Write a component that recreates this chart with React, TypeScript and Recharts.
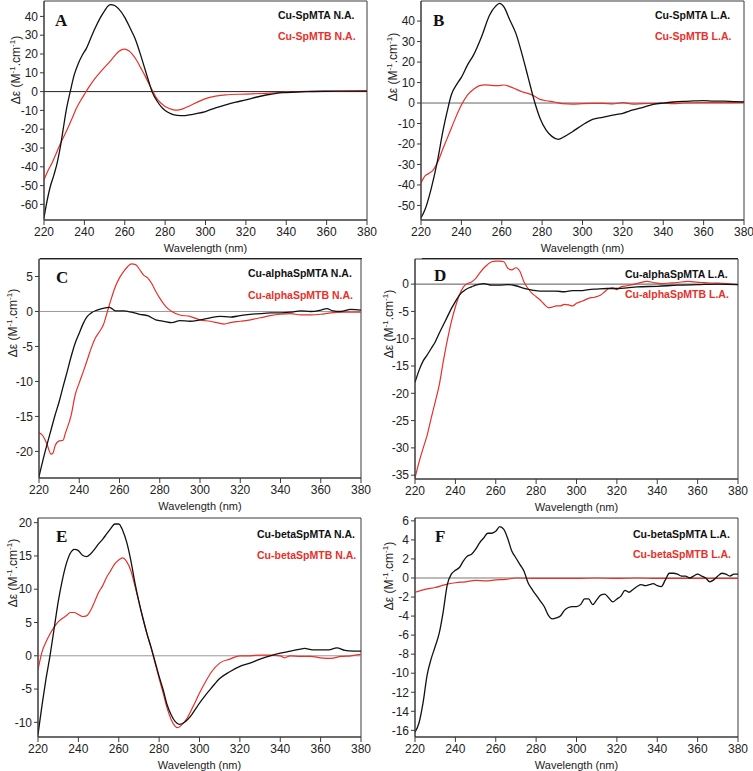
import React from "react";
import { LineChart, Line, XAxis, YAxis, ReferenceLine, ReferenceArea, Label } from "recharts";

type Pt = [number, number];

const wavelengthTicks = [220, 240, 260, 280, 300, 320, 340, 360, 380];

// A: native, SpMTA / SpMTB
const spmtaNA: Pt[] = [
  [220, -67], [221, -61], [223, -51], [225, -44], [226.5, -38], [228, -30], [229.5, -20], [231, -10], [233, 0],
  [235, 9], [237, 15], [239, 19.5], [241, 23], [243, 28], [245, 33], [248, 39.5], [250, 43], [252, 45.8],
  [253, 46.3], [255, 45.8], [257, 44], [260, 39.5], [263, 33], [265, 28.5], [268, 19], [270, 12], [272, 5],
  [273.5, 0], [276, -5], [278, -8], [280, -10], [283, -11.8], [286, -12.6], [289, -12.8], [292, -12.4],
  [295, -11.8], [300, -10.6], [305, -8.6], [310, -7], [315, -5.6], [320, -4.4], [325, -3], [330, -1.8],
  [335, -0.9], [340, -0.5], [345, -0.2], [350, 0], [360, 0.2], [370, 0.3], [380, 0.3],
];
const spmtbNA: Pt[] = [
  [220, -47], [222, -42], [224, -38], [226, -33], [228, -28], [230, -23.5], [232, -19], [234, -14], [236, -9],
  [238, -5], [240, -1.5], [242, 2], [245, 6.7], [248, 10.5], [250, 12.9], [253, 16.5], [255, 19], [257, 21.3],
  [259, 22.5], [260, 22.6], [262, 21.7], [264, 19.5], [266, 16.4], [268, 12.5], [270, 8.5], [272, 4], [274, 0],
  [276, -3.9], [278, -6.2], [280, -7.9], [282, -9], [285, -9.8], [287, -9.7], [290, -8.6], [293, -7.1],
  [296, -5.6], [300, -3.7], [305, -2.4], [310, -1.7], [320, -1.3], [330, -0.9], [340, -0.3], [350, 0.1],
  [360, 0.2], [370, 0.3], [380, 0.4],
];

// B: light-adapted, SpMTA / SpMTB
const spmtaLA: Pt[] = [
  [220, -56], [222, -52], [225, -42], [228, -29], [231, -13], [233, -4], [235, 3.9], [238, 9.6], [240, 12.5],
  [243, 18.5], [246, 23.4], [250, 32.4], [254, 43], [257, 47.3], [259, 48.6], [261, 47], [264, 40.5], [267, 34],
  [270, 24], [273, 12.8], [276, 1.5], [279, -7.5], [282, -13.2], [285, -16.4], [288, -17.7], [291, -16.4],
  [295, -14], [300, -10.7], [305, -8], [310, -7], [315, -5.9], [320, -5], [325, -3.4], [330, -2.1], [335, -0.7],
  [340, 0], [345, 0.5], [350, 0.8], [355, 1], [360, 1.2], [365, 0.9], [370, 0.9], [375, 0.7], [380, 0.6],
];
const spmtbLA: Pt[] = [
  [220, -39], [222, -35.6], [224, -34.3], [226, -32.7], [228, -29.4], [231, -22], [234, -14.8], [237, -7.5],
  [240, -1], [243, 3.9], [246, 6.7], [249, 8.5], [252, 8.9], [255, 8.6], [258, 8.5], [261, 8.8], [264, 8],
  [267, 6.8], [270, 5.5], [273, 4.7], [276, 3.4], [279, 1.8], [282, 1.1], [286, 0.5], [290, -0.3], [295, -0.5],
  [300, -0.3], [305, -0.2], [310, -0.2], [315, -0.4], [320, 0.2], [325, -0.5], [330, -0.3], [340, -0.1],
  [345, -0.3], [350, 0], [360, 0.2], [370, 0.2], [380, 0.3],
];

// C: alpha domain, native
const alphaANA: Pt[] = [
  [220, -23.6], [222, -21.2], [224, -19], [226, -16.9], [228, -14.8], [230, -12.9], [232, -10.7], [234, -8.6],
  [236, -6.4], [238, -4.5], [240, -3.1], [242, -1.7], [244, -0.7], [246, -0.2], [248, 0.1], [250, 0.3],
  [253, 0.5], [255, 0.6], [258, 0.1], [262, 0.1], [266, -0.1], [270, -0.4], [274, -0.6], [278, -1.2],
  [282, -1.4], [286, -1.6], [290, -1.3], [295, -1.4], [300, -1.2], [305, -0.9], [310, -0.7], [315, -0.8],
  [320, -0.6], [325, -0.4], [330, -0.3], [335, -0.2], [340, -0.2], [345, -0.1], [350, 0.1], [355, 0],
  [360, 0.2], [363, 0.4], [366, 0.1], [370, 0], [375, 0.3], [380, 0.2],
];
const alphaBNA: Pt[] = [
  [220, -17.3], [222, -17.8], [224, -19], [226, -20.4], [227, -20.2], [228, -19.2], [230, -18.5], [232, -18.4],
  [233, -17.5], [236, -14.8], [238, -11.9], [240, -10.2], [242, -8.6], [244, -6.9], [246, -5.2], [248, -3.8],
  [250, -2.9], [252, -1.9], [254, 0], [256, 1.9], [258, 3.6], [260, 4.8], [262, 5.7], [264, 6.4], [266, 6.8],
  [268, 6.7], [270, 6], [272, 5.2], [274, 4.8], [276, 4], [278, 2.9], [280, 1.9], [283, 0.7], [286, 0],
  [290, -0.5], [295, -0.7], [300, -1.2], [305, -1.4], [310, -1.7], [312, -1.8], [315, -1.6], [320, -1.4],
  [325, -1.2], [330, -0.9], [335, -0.6], [340, -0.4], [345, -0.3], [350, -0.5], [355, -0.5], [360, -0.4],
  [365, -0.2], [370, -0.1], [375, -0.1], [380, -0.1],
];

// D: alpha domain, light-adapted
const alphaALA: Pt[] = [
  [220, -18], [222, -15.8], [224, -14.1], [226, -13], [228, -11.8], [230, -10.6], [232, -9], [234, -7.5],
  [236, -6], [238, -4.5], [240, -3.2], [242, -2], [244, -1.3], [246, -0.8], [248, -0.5], [250, -0.2],
  [254, 0.1], [258, -0.2], [262, -0.2], [266, -0.1], [270, -0.3], [274, -0.8], [278, -1.1], [282, -1.3],
  [286, -1.3], [290, -1.3], [294, -1.4], [298, -1.2], [302, -1.2], [306, -1], [310, -0.9], [315, -0.8],
  [320, -0.8], [325, -0.7], [330, -0.5], [340, -0.4], [350, -0.2], [360, -0.1], [370, 0], [380, -0.1],
];
const alphaBLA: Pt[] = [
  [220, -35.5], [222, -32.6], [224, -30.1], [226, -27.7], [228, -24.6], [230, -21.6], [232, -18.5], [234, -14.2],
  [236, -10.3], [238, -6.9], [240, -4.2], [242, -2], [244, -0.5], [246, 0.1], [248, 0.4], [250, 1], [252, 2],
  [254, 2.9], [256, 3.6], [258, 4.1], [260, 4.2], [262, 4.2], [264, 4.1], [266, 2.9], [268, 2.6], [270, 3],
  [272, 2.3], [274, 0.4], [276, -0.8], [278, -1.7], [280, -2.3], [282, -2.9], [284, -3.7], [286, -4.3],
  [288, -4.2], [290, -4], [292, -4], [294, -3.7], [296, -3.8], [298, -4], [300, -3.5], [303, -3.1],
  [306, -2.6], [309, -2.4], [312, -2], [314, -1.4], [316, -0.8], [318, -0.7], [320, -1], [322, -0.5],
  [325, -0.3], [330, 0.1], [335, 0.5], [338, 0.3], [342, 0.1], [346, 0.2], [350, 0.3], [355, 0.5],
  [358, 0.4], [362, 0.3], [366, 0.2], [370, 0.2], [375, 0.1], [380, -0.1],
];

// E: beta domain, native
const betaANA: Pt[] = [
  [220, -11.8], [222, -7.4], [224, -3.4], [226, 0.1], [228, 4.1], [230, 8.1], [232, 11.3], [234, 13.8],
  [236, 15.4], [238, 16], [240, 15.8], [242, 15.1], [244, 14.9], [246, 15.3], [248, 16], [250, 16.8],
  [252, 17.5], [254, 18.3], [256, 19.1], [258, 19.8], [260, 19.8], [262, 18.8], [264, 17], [266, 14.3],
  [268, 11], [270, 8.1], [272, 5.6], [274, 3.3], [276, 1.3], [278, -0.9], [280, -3.1], [282, -5.1],
  [284, -7.4], [286, -8.9], [288, -9.9], [290, -10.3], [292, -10.1], [294, -9.6], [296, -8.9], [298, -8],
  [300, -7.1], [303, -5.9], [306, -4.8], [310, -3.4], [315, -2.4], [320, -1.6], [325, -1.1], [330, -0.5],
  [335, 0], [340, 0.4], [345, 0.7], [350, 1], [352, 1.1], [356, 0.9], [360, 0.9], [364, 0.9], [368, 1.2],
  [372, 0.8], [376, 0.7], [380, 0.7],
];
const betaBNA: Pt[] = [
  [220, -2.1], [222, 0.6], [224, 2.1], [226, 3.3], [228, 4.3], [230, 5.1], [232, 5.6], [234, 6], [236, 6.5],
  [238, 6.5], [240, 6.2], [242, 5.9], [244, 6], [246, 6.8], [248, 8.1], [250, 9.5], [252, 10.5], [254, 11.8],
  [256, 12.8], [258, 13.8], [260, 14.4], [262, 14.7], [264, 14.1], [266, 12.8], [268, 10.5], [270, 8.1],
  [272, 5.6], [274, 3.3], [276, 1.2], [278, -1.1], [280, -3.4], [282, -5.6], [284, -7.9], [286, -9.6],
  [288, -10.6], [289, -10.8], [290, -10.7], [292, -10.1], [294, -9.3], [296, -8.1], [298, -6.9], [300, -5.6],
  [303, -3.9], [306, -2.4], [310, -1.1], [315, -0.5], [320, 0], [325, 0], [330, 0.1], [335, 0.1], [340, 0],
  [342, -0.3], [345, 0], [350, -0.1], [355, -0.1], [360, -0.3], [365, -0.4], [370, -0.1], [375, 0], [380, 0.2],
];

// F: beta domain, light-adapted
const betaALA: Pt[] = [
  [220, -16.2], [222, -15.2], [224, -13.1], [226, -10.2], [228, -8.5], [230, -7.2], [232, -5.8], [234, -3.5],
  [236, -0.7], [238, 0.4], [240, 0.8], [242, 1.1], [244, 1.8], [246, 2.3], [248, 2.5], [250, 3], [252, 3.7],
  [254, 4.2], [256, 4.7], [258, 4.7], [260, 4.9], [262, 5.4], [264, 5.1], [266, 4.1], [268, 2.8], [270, 2.1],
  [272, 1.4], [274, 0.7], [276, -0.5], [278, -1.2], [280, -1.8], [282, -2.4], [284, -3], [286, -3.9],
  [288, -4.3], [290, -4.2], [292, -4], [294, -3.4], [296, -3.1], [298, -3], [300, -3], [302, -2.8],
  [304, -2.2], [306, -2.2], [308, -2.8], [310, -2.3], [312, -1.8], [314, -1.7], [316, -2.1], [318, -2.5],
  [320, -2.2], [322, -1.9], [324, -1.3], [326, -1.5], [328, -1.2], [330, -0.9], [332, -0.7], [334, -0.8],
  [336, -0.7], [338, -0.6], [340, -0.8], [342, -0.9], [344, -0.2], [346, 0.5], [348, 0.5], [350, 0.4],
  [352, 0.2], [354, 0.2], [356, 0], [358, 0.2], [360, 0.4], [362, 0.2], [364, 0], [366, -0.4], [368, -0.2],
  [370, 0.2], [372, 0.5], [374, 0.4], [376, 0.2], [378, 0.4], [380, 0.4],
];
const betaBLA: Pt[] = [
  [220, -1.5], [225, -1.2], [230, -1], [235, -0.7], [240, -0.5], [245, -0.4], [250, -0.25], [255, -0.3],
  [260, -0.2], [265, -0.15], [270, 0], [280, -0.05], [290, -0.05], [300, -0.05], [310, 0], [320, -0.05],
  [330, 0], [340, -0.05], [350, -0.05], [360, -0.05], [370, -0.05], [380, -0.05],
];

const RED = "#e8302a";
const FRAME = "#3a3a3a";
const SANS = "'Liberation Sans', Arial, sans-serif";

type PanelDef = {
  letter: string;
  left: number; right: number; top: number; bottom: number;
  domain: [number, number];
  yTicks: number[];
  zero: string;
  black: Pt[]; red: Pt[];
  blackName: string; redName: string;
  legendX: number; legendY1: number; legendY2: number;
  letterX: number; letterY: number;
  yLabelX: number; yLabelY: number;
};

const panels: PanelDef[] = [
  {
    letter: "A", left: 44, right: 367, top: 1, bottom: 220, domain: [-68.3, 48.2],
    yTicks: [-60, -50, -40, -30, -20, -10, 0, 10, 20, 30, 40], zero: "#222",
    black: spmtaNA, red: spmtbNA, blackName: "Cu-SpMTA N.A.", redName: "Cu-SpMTB N.A.",
    legendX: 278, legendY1: 15, legendY2: 36, letterX: 55, letterY: 21, yLabelX: 13, yLabelY: 70,
  },
  {
    letter: "B", left: 421, right: 744, top: 1, bottom: 220, domain: [-57.1, 49.8],
    yTicks: [-50, -40, -30, -20, -10, 0, 10, 20, 30, 40], zero: "#666",
    black: spmtaLA, red: spmtbLA, blackName: "Cu-SpMTA L.A.", redName: "Cu-SpMTB L.A.",
    legendX: 655, legendY1: 15, legendY2: 36, letterX: 433, letterY: 21, yLabelX: 390, yLabelY: 67,
  },
  {
    letter: "C", left: 39, right: 361, top: 259, bottom: 478, domain: [-23.8, 7.5],
    yTicks: [-20, -15, -10, -5, 0, 5], zero: "#999",
    black: alphaANA, red: alphaBNA, blackName: "Cu-alphaSpMTA N.A.", redName: "Cu-alphaSpMTB N.A.",
    legendX: 248, legendY1: 273, legendY2: 295, letterX: 56, letterY: 278, yLabelX: 10, yLabelY: 323,
  },
  {
    letter: "D", left: 415, right: 738, top: 259, bottom: 479, domain: [-35.7, 4.6],
    yTicks: [-35, -30, -25, -20, -15, -10, -5, 0], zero: "#555",
    black: alphaALA, red: alphaBLA, blackName: "Cu-alphaSpMTA L.A.", redName: "Cu-alphaSpMTB L.A.",
    legendX: 625, legendY1: 274, legendY2: 294, letterX: 434, letterY: 276, yLabelX: 386, yLabelY: 324,
  },
  {
    letter: "E", left: 38, right: 361, top: 518, bottom: 737, domain: [-12.2, 20.7],
    yTicks: [-10, -5, 0, 5, 10, 15, 20], zero: "#999",
    black: betaANA, red: betaBNA, blackName: "Cu-betaSpMTA N.A.", redName: "Cu-betaSpMTB N.A.",
    legendX: 257, legendY1: 534, legendY2: 555, letterX: 56, letterY: 537, yLabelX: 10, yLabelY: 573,
  },
  {
    letter: "F", left: 415, right: 738, top: 518, bottom: 737, domain: [-16.7, 6.3],
    yTicks: [-16, -14, -12, -10, -8, -6, -4, -2, 0, 2, 4, 6], zero: "#777",
    black: betaALA, red: betaBLA, blackName: "Cu-betaSpMTA L.A.", redName: "Cu-betaSpMTB L.A.",
    legendX: 633, legendY1: 534, legendY2: 554, letterX: 435, letterY: 537, yLabelX: 386, yLabelY: 576,
  },
];

const AXIS_W = 44;
const PAD_R = 10;
const PAD_T = 10;
const XAXIS_H = 34;

const tickStyle = { fill: "#222", fontSize: 12, fontFamily: SANS };

function Panel({ p }: { p: PanelDef }) {
  const plotW = p.right - p.left;
  const plotH = p.bottom - p.top;
  const blackData = p.black.map(([w, v]) => ({ w, v }));
  const redData = p.red.map(([w, v]) => ({ w, v }));

  return (
    <>
      <div style={{ position: "absolute", left: p.left - AXIS_W, top: p.top - PAD_T }}>
        <LineChart
          width={AXIS_W + plotW + PAD_R}
          height={PAD_T + plotH + XAXIS_H}
          margin={{ top: PAD_T, right: PAD_R, bottom: 0, left: 0 }}
        >
          <XAxis
            type="number"
            dataKey="w"
            domain={[220, 380]}
            ticks={wavelengthTicks}
            interval={0}
            allowDataOverflow
            height={XAXIS_H}
            tickSize={5}
            tick={tickStyle}
            stroke={FRAME}
          >
            <Label value="Wavelength (nm)" position="insideBottom" offset={2} fill="#222" fontSize={11} fontFamily={SANS} />
          </XAxis>
          <YAxis
            type="number"
            domain={p.domain}
            ticks={p.yTicks}
            interval={0}
            allowDataOverflow
            width={AXIS_W}
            tickSize={4}
            tick={tickStyle}
            stroke={FRAME}
          />
          <ReferenceArea x1={220} x2={380} y1={p.domain[0]} y2={p.domain[1]} fill="none" stroke={FRAME} strokeWidth={1} />
          <ReferenceLine y={0} stroke={p.zero} strokeWidth={1} />
          <Line data={redData} dataKey="v" type="monotone" stroke={RED} strokeWidth={1.2} dot={false} isAnimationActive={false} />
          <Line data={blackData} dataKey="v" type="monotone" stroke="#111" strokeWidth={1.3} dot={false} isAnimationActive={false} />
        </LineChart>
      </div>
      <div
        style={{
          position: "absolute", left: p.letterX, top: p.letterY - 10, fontFamily: "'Liberation Serif', 'Times New Roman', serif",
          fontWeight: "bold", fontSize: 17, lineHeight: "20px", color: "#111",
        }}
      >
        {p.letter}
      </div>
      <div style={{ position: "absolute", left: p.legendX, top: p.legendY1 - 7, fontFamily: SANS, fontWeight: "bold", fontSize: 10.5, lineHeight: "14px", color: "#111", whiteSpace: "nowrap" }}>
        {p.blackName}
      </div>
      <div style={{ position: "absolute", left: p.legendX, top: p.legendY2 - 7, fontFamily: SANS, fontWeight: "bold", fontSize: 10.5, lineHeight: "14px", color: RED, whiteSpace: "nowrap" }}>
        {p.redName}
      </div>
      <div
        style={{
          position: "absolute", left: p.yLabelX - 50, top: p.yLabelY - 8, width: 100, height: 16, textAlign: "center",
          transform: "rotate(-90deg)", fontFamily: SANS, fontSize: 12, lineHeight: "16px", color: "#222", whiteSpace: "nowrap",
        }}
      >
        Δε (M<sup style={{ fontSize: 8 }}>-1</sup>.cm<sup style={{ fontSize: 8 }}>-1</sup>)
      </div>
    </>
  );
}

export default function App() {
  return (
    <div style={{ position: "absolute", left: 0, top: 0, width: 753, height: 771, background: "#fff", overflow: "hidden" }}>
      {panels.map((p) => (
        <Panel key={p.letter} p={p} />
      ))}
      <div style={{ position: "absolute", left: 40, top: 258, width: 322, borderTop: "1px solid #222" }} />
      <div style={{ position: "absolute", left: 422, top: 258, width: 316, borderTop: "1px solid #222" }} />
    </div>
  );
}
